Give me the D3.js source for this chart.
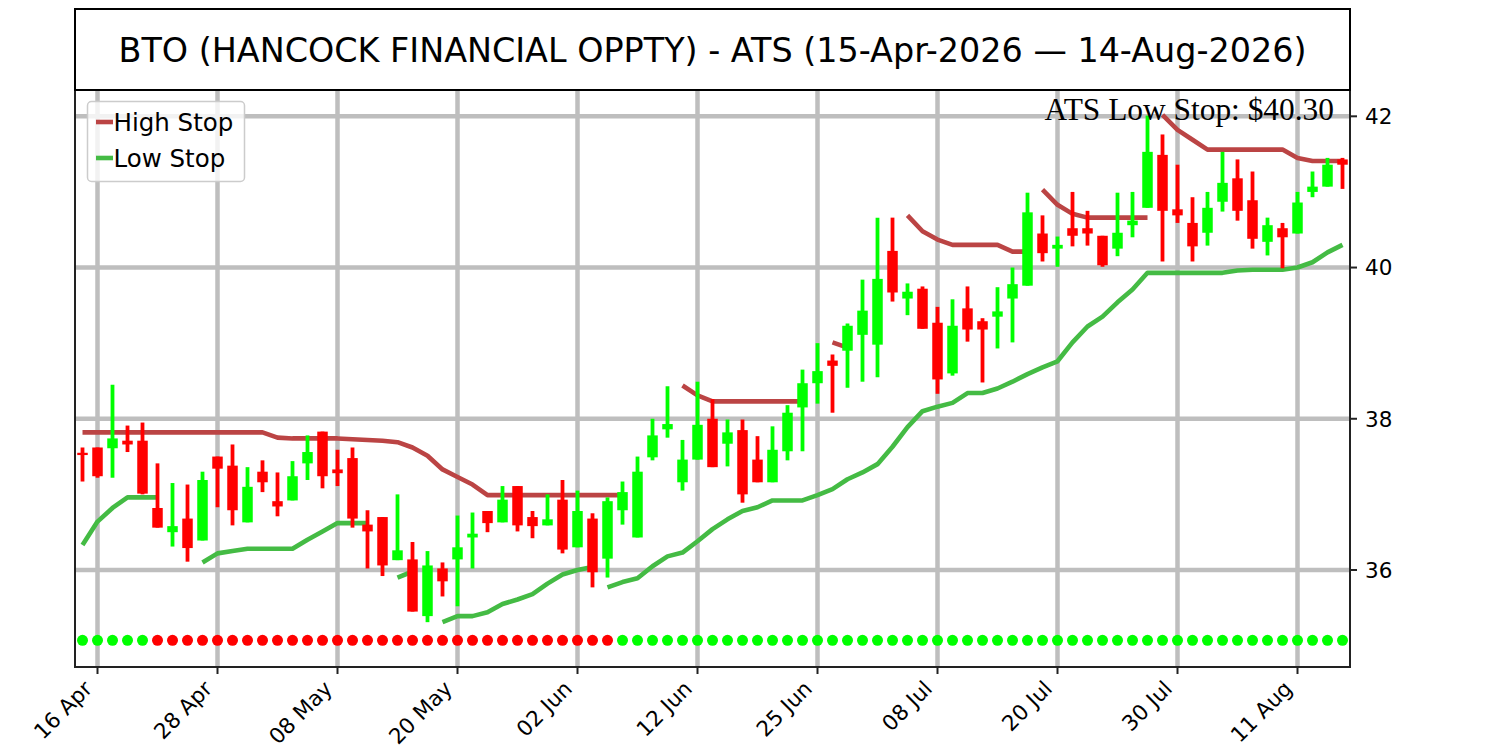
<!DOCTYPE html>
<html>
<head>
<meta charset="utf-8">
<script src="https://cdn.jsdelivr.net/npm/d3@7"></script>
<style>
  body { margin: 0; background: #fff; }
  text { font-family: 'DejaVu Sans', sans-serif; fill: #000; }
</style>
</head>
<body>
<div id="chart"></div>
<script>
// Trading days, 15-Apr-2026 .. 14-Aug-2026 (US holidays skipped)
const dates = [
  '2026-04-15','2026-04-16','2026-04-17','2026-04-20','2026-04-21','2026-04-22','2026-04-23','2026-04-24','2026-04-27','2026-04-28',
  '2026-04-29','2026-04-30','2026-05-01','2026-05-04','2026-05-05','2026-05-06','2026-05-07','2026-05-08','2026-05-11','2026-05-12',
  '2026-05-13','2026-05-14','2026-05-15','2026-05-18','2026-05-19','2026-05-20','2026-05-21','2026-05-22','2026-05-26','2026-05-27',
  '2026-05-28','2026-05-29','2026-06-01','2026-06-02','2026-06-03','2026-06-04','2026-06-05','2026-06-08','2026-06-09','2026-06-10',
  '2026-06-11','2026-06-12','2026-06-15','2026-06-16','2026-06-17','2026-06-18','2026-06-22','2026-06-23','2026-06-24','2026-06-25',
  '2026-06-26','2026-06-29','2026-06-30','2026-07-01','2026-07-02','2026-07-06','2026-07-07','2026-07-08','2026-07-09','2026-07-10',
  '2026-07-13','2026-07-14','2026-07-15','2026-07-16','2026-07-17','2026-07-20','2026-07-21','2026-07-22','2026-07-23','2026-07-24',
  '2026-07-27','2026-07-28','2026-07-29','2026-07-30','2026-07-31','2026-08-03','2026-08-04','2026-08-05','2026-08-06','2026-08-07',
  '2026-08-10','2026-08-11','2026-08-12','2026-08-13','2026-08-14'
];

const openPx = [
  37.55,37.62,37.61,37.71,37.71,36.82,36.50,36.68,36.39,37.50,
  37.38,36.63,37.30,36.91,36.92,37.41,37.83,37.33,37.48,36.60,
  36.70,36.13,36.14,35.39,36.02,36.14,36.43,36.78,36.63,37.11,
  36.70,36.59,36.93,36.30,36.68,36.15,36.79,36.43,37.49,37.86,
  37.16,37.46,38.00,37.67,37.85,37.46,37.16,37.57,38.15,38.47,
  38.77,38.90,39.11,38.98,40.22,39.59,39.72,39.27,38.60,39.46,
  39.29,39.35,39.59,39.76,40.45,40.25,40.52,40.52,40.42,40.25,
  40.56,40.79,41.49,40.77,40.59,40.46,40.87,41.18,40.89,40.34,
  40.52,40.45,41.00,41.07,41.43
];
const highPx = [
  37.62,37.62,38.45,37.91,37.95,37.41,37.15,37.13,37.30,37.50,
  37.66,37.36,37.45,37.29,37.44,37.78,37.83,37.59,37.62,36.79,
  36.70,37.00,36.37,36.25,36.10,36.72,36.76,36.78,37.11,37.11,
  36.78,37.00,37.19,37.05,36.75,36.96,37.17,37.50,38.00,38.43,
  37.72,38.49,38.26,37.99,37.99,37.77,37.90,38.18,38.65,39.00,
  38.85,39.26,39.84,40.66,40.66,39.79,39.75,39.48,39.58,39.75,
  39.33,39.74,40.00,40.99,40.69,40.41,41.00,40.75,40.42,40.99,
  41.00,42.01,41.76,41.36,40.93,41.00,41.53,41.43,41.27,40.66,
  40.59,41.00,41.27,41.45,41.45
];
const lowPx = [
  37.17,37.22,37.22,37.56,37.00,36.56,36.31,36.11,36.39,36.83,
  36.59,36.63,37.03,36.71,36.92,37.19,37.08,37.11,36.56,36.02,
  35.92,36.13,35.45,35.31,35.65,35.52,36.02,36.50,36.63,36.51,
  36.42,36.59,36.22,36.30,35.77,35.90,36.60,36.43,37.45,37.75,
  37.05,37.46,37.36,37.37,36.89,37.16,37.16,37.45,37.57,38.20,
  38.08,38.41,38.49,38.55,39.55,39.37,39.19,38.33,38.57,39.02,
  38.48,38.93,39.01,39.76,40.08,40.01,40.28,40.29,40.01,40.15,
  40.40,40.79,40.08,40.59,40.08,40.29,40.74,40.62,40.25,40.16,
  39.99,40.45,40.93,41.07,41.04
];
const closePx = [
  37.52,37.24,37.74,37.66,37.01,36.56,36.58,36.29,37.19,37.34,
  36.79,37.10,37.16,36.84,37.24,37.56,37.24,37.28,36.68,36.51,
  36.06,36.26,35.45,36.06,35.85,36.30,36.48,36.62,36.93,36.59,
  36.58,36.67,36.27,36.78,35.97,36.91,37.03,37.30,37.78,37.93,
  37.46,37.92,37.36,37.82,37.00,37.16,37.59,38.08,38.47,38.63,
  38.70,39.23,39.43,39.85,39.67,39.68,39.19,38.52,39.23,39.18,
  39.18,39.42,39.78,40.73,40.19,40.30,40.42,40.45,40.03,40.46,
  40.62,41.53,40.75,40.69,40.28,40.79,41.12,40.75,40.38,40.56,
  40.40,40.86,41.07,41.36,41.36
];

// ATS stops (null = not shown); a new segment starts at each break index
const highStop = [
  37.82,37.82,37.82,37.82,37.82,37.82,37.82,37.82,37.82,37.82,
  37.82,37.82,37.82,37.75,37.74,37.74,37.74,37.74,37.73,37.72,
  37.71,37.69,37.62,37.51,37.33,37.23,37.13,36.99,36.99,36.99,
  36.99,36.99,36.99,36.99,36.99,36.99,36.99,null,null,null,
  38.44,38.31,38.23,38.23,38.23,38.23,38.23,38.23,38.23,null,
  39.01,38.94,null,null,null,40.69,40.48,40.37,40.30,40.30,
  40.30,40.30,40.21,40.21,41.03,40.83,40.71,40.66,40.66,40.66,
  40.66,40.66,42.02,41.82,41.69,41.56,41.56,41.56,41.56,41.56,
  41.56,41.45,41.41,41.41,41.41
];
const highBreaks = [64, 72];
const lowStop = [
  36.33,36.64,36.82,36.96,36.96,36.96,null,null,36.10,36.22,
  36.25,36.28,36.28,36.28,36.28,36.40,36.51,36.62,36.62,36.62,
  null,35.90,35.98,null,35.31,35.39,35.39,35.44,35.55,35.61,
  35.68,35.82,35.94,36.00,36.04,35.77,35.84,35.89,36.05,36.18,
  36.23,36.38,36.54,36.67,36.78,36.83,36.92,36.92,36.92,36.99,
  37.07,37.20,37.29,37.40,37.63,37.89,38.10,38.16,38.21,38.34,
  38.34,38.40,38.49,38.59,38.68,38.76,39.01,39.22,39.35,39.54,
  39.71,39.93,39.93,39.93,39.93,39.93,39.93,39.96,39.97,39.97,
  39.97,40.00,40.07,40.20,40.30
];
const lowBreaks = [35];

// Trend per bar: 1 = up (green dot), -1 = down (red dot)
const trend = [
  1,1,1,1,1,-1,-1,-1,-1,-1, -1,-1,-1,-1,-1,-1,-1,-1,-1,-1,
  -1,-1,-1,-1,-1,-1,-1,-1,-1,-1, -1,-1,-1,-1,-1,-1,1,1,1,1,
  1,1,1,1,1,1,1,1,1,1, 1,1,1,1,1,1,1,1,1,1,
  1,1,1,1,1,1,1,1,1,1, 1,1,1,1,1,1,1,1,1,1,
  1,1,1,1,1
];
const signalLevel = 35.07;

const xTickIndex = [1, 9, 17, 25, 33, 41, 49, 57, 65, 73, 81];
const yTicks = [36, 38, 40, 42];
const lastLowStop = 40.30;
const titleText = 'BTO (HANCOCK FINANCIAL OPPTY) - ATS (15-Apr-2026 \u2014 14-Aug-2026)';

const UP = '#00ff00', DOWN = '#ff0000';
const HIGH_COLOR = '#bb4444', LOW_COLOR = '#44bb44';

const margin = { left: 75, right: 150, top: 90, bottom: 83 };
const width = 1500, height = 750;
const plotW = width - margin.left - margin.right;
const plotH = height - margin.top - margin.bottom;

const svg = d3.select('#chart').append('svg')
  .attr('width', width)
  .attr('height', height);

const x = d3.scaleLinear().domain([-0.5, dates.length - 0.5]).range([0, plotW]);
const y = d3.scaleLinear().domain([34.717, 42.348]).range([plotH, 0]);

const chart = svg.append('g').attr('transform', `translate(${margin.left},${margin.top})`);

// grid
chart.append('g').selectAll('line').data(xTickIndex).join('line')
  .attr('x1', d => x(d)).attr('x2', d => x(d))
  .attr('y1', 0).attr('y2', plotH)
  .attr('stroke', '#bebebe').attr('stroke-width', 4.5);
chart.append('g').selectAll('line').data(yTicks).join('line')
  .attr('x1', 0).attr('x2', plotW)
  .attr('y1', d => y(d)).attr('y2', d => y(d))
  .attr('stroke', '#bebebe').attr('stroke-width', 4.5);

// split a stop series into separate segments
function segments(values, breaks) {
  const segs = [];
  let cur = null;
  values.forEach((v, i) => {
    if (v == null) { cur = null; return; }
    if (!cur || breaks.includes(i)) { cur = []; segs.push(cur); }
    cur.push([i, v]);
  });
  return segs;
}

const line = d3.line().x(d => x(d[0])).y(d => y(d[1]));

chart.append('g').selectAll('path').data(segments(highStop, highBreaks)).join('path')
  .attr('d', line).attr('fill', 'none')
  .attr('stroke', HIGH_COLOR).attr('stroke-width', 4.6)
  .attr('stroke-linejoin', 'round');
chart.append('g').selectAll('path').data(segments(lowStop, lowBreaks)).join('path')
  .attr('d', line).attr('fill', 'none')
  .attr('stroke', LOW_COLOR).attr('stroke-width', 4.6)
  .attr('stroke-linejoin', 'round');

// candles
const bars = dates.map((d, i) => ({ i, o: openPx[i], h: highPx[i], l: lowPx[i], c: closePx[i] }));
const bodyW = x(0.35) - x(-0.35);
const candle = chart.append('g').selectAll('g').data(bars).join('g');
candle.append('line')
  .attr('x1', d => x(d.i)).attr('x2', d => x(d.i))
  .attr('y1', d => y(d.h)).attr('y2', d => y(d.l))
  .attr('stroke', d => d.c >= d.o ? UP : DOWN)
  .attr('stroke-width', 3.8);
candle.append('rect')
  .attr('x', d => x(d.i) - bodyW / 2)
  .attr('width', bodyW)
  .attr('y', d => y(Math.max(d.o, d.c)))
  .attr('height', d => Math.max(Math.abs(y(d.o) - y(d.c)), 1.5))
  .attr('fill', d => d.c >= d.o ? UP : DOWN);

// trend dots
chart.append('g').selectAll('circle').data(trend).join('circle')
  .attr('cx', (d, i) => x(i)).attr('cy', y(signalLevel))
  .attr('r', 5.5)
  .attr('fill', d => d > 0 ? UP : DOWN);

// frame
chart.append('rect')
  .attr('width', plotW).attr('height', plotH)
  .attr('fill', 'none').attr('stroke', '#222').attr('stroke-width', 2);

// x axis ticks + rotated labels
const fmt = d3.timeFormat('%d %b');
const parse = d3.timeParse('%Y-%m-%d');
const xt = chart.append('g').attr('transform', `translate(0,${plotH})`);
xt.selectAll('line').data(xTickIndex).join('line')
  .attr('x1', d => x(d)).attr('x2', d => x(d))
  .attr('y1', 0).attr('y2', 7)
  .attr('stroke', '#222').attr('stroke-width', 2);
xt.selectAll('text').data(xTickIndex).join('text')
  .attr('transform', d => `translate(${x(d) - 4},23) rotate(-45)`)
  .attr('text-anchor', 'end')
  .attr('font-size', 21.5)
  .text(d => fmt(parse(dates[d])));

// y axis on the right
const yt = chart.append('g').attr('transform', `translate(${plotW},0)`);
yt.selectAll('line').data(yTicks).join('line')
  .attr('x1', 0).attr('x2', 7)
  .attr('y1', d => y(d)).attr('y2', d => y(d))
  .attr('stroke', '#222').attr('stroke-width', 2);
yt.selectAll('text').data(yTicks).join('text')
  .attr('x', 15).attr('y', d => y(d))
  .attr('dy', '0.36em')
  .attr('font-size', 21.5)
  .text(d => d);

// annotation
chart.append('text')
  .attr('x', plotW - 16).attr('y', 30)
  .attr('text-anchor', 'end')
  .style('font-family', "'Liberation Serif', serif")
  .attr('font-size', 31.4)
  .text(`ATS Low Stop: $${lastLowStop.toFixed(2)}`);

// legend
const legend = chart.append('g').attr('transform', 'translate(12.5,11.5)');
legend.append('rect')
  .attr('width', 157).attr('height', 80).attr('rx', 4)
  .attr('fill', 'white').attr('fill-opacity', 0.8)
  .attr('stroke', '#cccccc').attr('stroke-width', 1.5);
[['High Stop', HIGH_COLOR], ['Low Stop', LOW_COLOR]].forEach(([label, color], k) => {
  const ly = 20.5 + k * 36;
  legend.append('line')
    .attr('x1', 8.5).attr('x2', 25.5).attr('y1', ly).attr('y2', ly)
    .attr('stroke', color).attr('stroke-width', 4.6);
  legend.append('text')
    .attr('x', 26).attr('y', ly).attr('dy', '0.36em')
    .attr('font-size', 24.5)
    .text(label);
});

// title box
svg.append('rect')
  .attr('x', margin.left).attr('y', 9)
  .attr('width', plotW).attr('height', margin.top - 9)
  .attr('fill', 'white').attr('stroke', '#000').attr('stroke-width', 2);
svg.append('text')
  .attr('x', margin.left + plotW / 2).attr('y', 50)
  .attr('dy', '0.36em')
  .attr('text-anchor', 'middle')
  .attr('font-size', 33.4)
  .text(titleText);
</script>
</body>
</html>
